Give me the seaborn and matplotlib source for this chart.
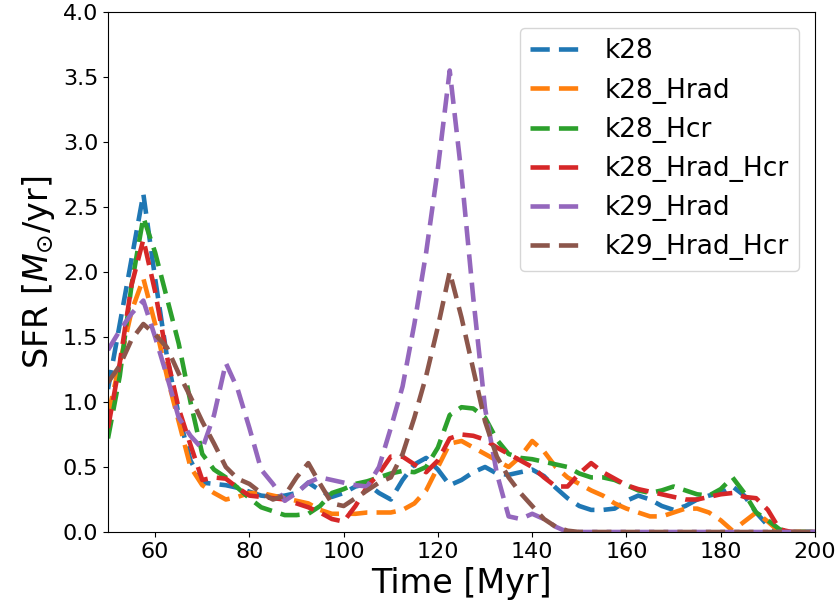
import numpy as np
import pandas as pd
import matplotlib
matplotlib.use("Agg")
import matplotlib.pyplot as plt
import seaborn as sns

time = [50 + 2.5 * i for i in range(61)]

names = ["k28", "k28_Hrad", "k28_Hcr", "k28_Hrad_Hcr", "k29_Hrad", "k29_Hrad_Hcr"]

k28 = [1.1, 1.6, 2.1, 2.6, 1.95, 1.35, 0.9, 0.55, 0.38, 0.37, 0.36, 0.34, 0.31, 0.28, 0.27,
       0.28, 0.3, 0.38, 0.32, 0.27, 0.3, 0.35, 0.37, 0.3, 0.25, 0.4, 0.52, 0.57, 0.48, 0.36,
       0.4, 0.46, 0.5, 0.45, 0.44, 0.46, 0.48, 0.43, 0.34, 0.26, 0.2, 0.17, 0.17, 0.18, 0.24,
       0.28, 0.25, 0.2, 0.17, 0.2, 0.25, 0.28, 0.3, 0.35, 0.28, 0.15, 0.05, 0.0, 0.0, 0.0, 0.0]

k28_Hrad = [0.9, 1.3, 1.7, 1.95, 1.6, 1.2, 0.85, 0.5, 0.36, 0.3, 0.25, 0.27, 0.3, 0.3, 0.28,
            0.26, 0.24, 0.22, 0.17, 0.14, 0.14, 0.14, 0.15, 0.15, 0.15, 0.17, 0.22, 0.32, 0.5, 0.68,
            0.7, 0.65, 0.6, 0.55, 0.5, 0.58, 0.7, 0.62, 0.5, 0.42, 0.37, 0.32, 0.28, 0.22, 0.18,
            0.15, 0.12, 0.12, 0.15, 0.18, 0.18, 0.15, 0.09, 0.01, 0.08, 0.15, 0.08, 0.0, 0.0, 0.0, 0.0]

k28_Hcr = [0.72, 1.2, 1.9, 2.42, 2.15, 1.8, 1.45, 1.0, 0.6, 0.48, 0.42, 0.34, 0.26, 0.19, 0.16,
           0.13, 0.13, 0.14, 0.2, 0.3, 0.33, 0.37, 0.39, 0.42, 0.45, 0.47, 0.46, 0.5, 0.65, 0.9,
           0.96, 0.95, 0.88, 0.71, 0.6, 0.57, 0.56, 0.54, 0.52, 0.5, 0.45, 0.42, 0.42, 0.4, 0.36,
           0.32, 0.3, 0.32, 0.35, 0.32, 0.29, 0.28, 0.33, 0.42, 0.3, 0.15, 0.09, 0.02, 0.0, 0.0, 0.0]

k28_Hrad_Hcr = [0.8, 1.3, 1.9, 2.25, 1.85, 1.35, 0.95, 0.67, 0.4, 0.42, 0.41, 0.34, 0.28, 0.27, 0.26,
                0.25, 0.22, 0.19, 0.15, 0.1, 0.08, 0.2, 0.35, 0.45, 0.58, 0.58, 0.52, 0.46, 0.55, 0.72,
                0.75, 0.74, 0.71, 0.65, 0.6, 0.55, 0.5, 0.42, 0.35, 0.35, 0.45, 0.53, 0.46, 0.41, 0.36,
                0.33, 0.31, 0.29, 0.27, 0.25, 0.25, 0.27, 0.29, 0.3, 0.27, 0.26, 0.17, 0.02, 0.0, 0.0, 0.0]

k29_Hrad = [1.4, 1.55, 1.68, 1.78, 1.5, 1.2, 0.88, 0.74, 0.64, 0.9, 1.3, 1.1, 0.8, 0.48, 0.37,
            0.24, 0.3, 0.38, 0.42, 0.4, 0.38, 0.36, 0.35, 0.5, 0.8, 1.12, 1.6, 2.15, 2.8, 3.55,
            2.75, 1.8, 0.95, 0.45, 0.12, 0.1, 0.14, 0.1, 0.04, 0.0, 0.0, 0.0, 0.0, 0.0, 0.0,
            0.0, 0.0, 0.0, 0.0, 0.0, 0.0, 0.0, 0.0, 0.0, 0.0, 0.0, 0.0, 0.0, 0.0, 0.0, 0.0]

k29_Hrad_Hcr = [1.15, 1.28, 1.48, 1.6, 1.52, 1.42, 1.22, 1.04, 0.85, 0.68, 0.5, 0.41, 0.37, 0.3, 0.25,
                0.28, 0.42, 0.53, 0.37, 0.22, 0.2, 0.26, 0.32, 0.38, 0.42, 0.6, 0.88, 1.2, 1.58, 2.0,
                1.65, 1.25, 0.85, 0.58, 0.42, 0.3, 0.2, 0.1, 0.04, 0.01, 0.0, 0.0, 0.0, 0.0, 0.0,
                0.0, 0.0, 0.0, 0.0, 0.0, 0.0, 0.0, 0.0, 0.0, 0.0, 0.0, 0.0, 0.0, 0.0, 0.0, 0.0]

series = [k28, k28_Hrad, k28_Hcr, k28_Hrad_Hcr, k29_Hrad, k29_Hrad_Hcr]

xticks = [60, 80, 100, 120, 140, 160, 180, 200]
yticks = [0.0, 0.5, 1.0, 1.5, 2.0, 2.5, 3.0, 3.5, 4.0]

df = pd.DataFrame({
    "Time": np.tile(time, len(names)),
    "SFR": np.concatenate(series),
    "run": np.repeat(names, len(time)),
})

fig = plt.figure(figsize=(8.38, 6.13), dpi=100)
ax = fig.add_axes([108 / 838, 1 - 532 / 613, (815 - 108) / 838, (532 - 12) / 613])

palette = sns.color_palette("tab10", len(names))
for name, col in zip(names, palette):
    sub = df[df["run"] == name]
    sns.lineplot(data=sub, x="Time", y="SFR", ax=ax, color=col,
                 linewidth=3.3, dashes=False, label=name, estimator=None, sort=False)
for line in ax.lines:
    line.set_dashes((4.2, 2.0))

ax.set_xlim(50, 200)
ax.set_ylim(0, 4)
ax.set_xticks(xticks)
ax.set_yticks(yticks)
ax.set_yticklabels([f"{v:.1f}" for v in yticks])
ax.tick_params(labelsize=16)
ax.set_xlabel("Time [Myr]", fontsize=24)
ax.set_ylabel(r"SFR [$M_{\odot}$/yr]", fontsize=24)
leg = ax.legend(loc="upper right", fontsize=19, borderaxespad=0.6)
for h in leg.get_lines():
    h.set_dashes((4.2, 2.0))

fig.savefig("out.png", dpi=100)
